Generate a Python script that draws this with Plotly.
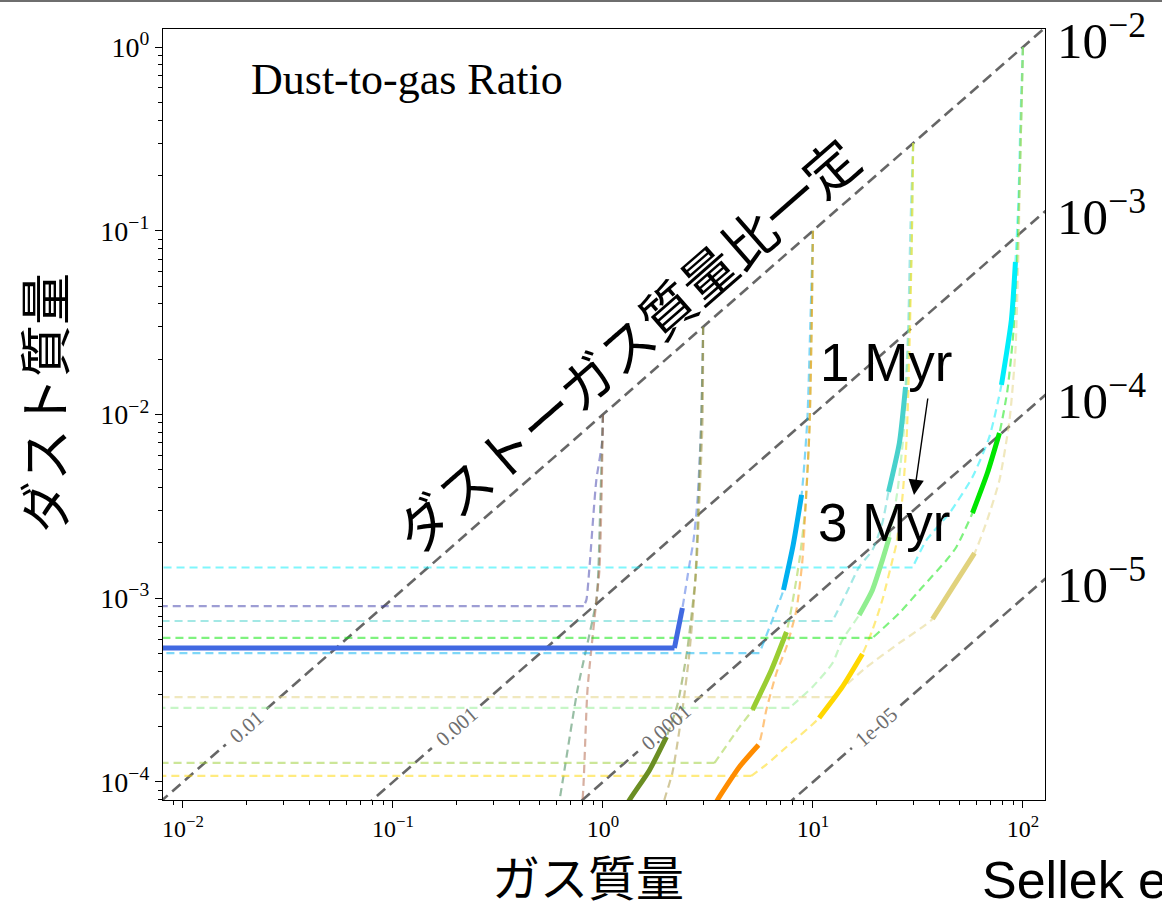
import math
import plotly.graph_objects as go

# ---------------------------------------------------------------------------
# Axis limits (log10 of gas mass / dust mass)
# ---------------------------------------------------------------------------
X_LOG_RANGE = [-2.095, 2.105]
Y_LOG_RANGE = [-4.098, 0.098]

x_tick_vals = [1e-2, 1e-1, 1.0, 1e1, 1e2]
x_tick_text = ["10<sup>−2</sup>", "10<sup>−1</sup>", "10<sup>0</sup>", "10<sup>1</sup>", "10<sup>2</sup>"]
y_tick_vals = [1e-4, 1e-3, 1e-2, 1e-1, 1.0]
y_tick_text = ["10<sup>−4</sup>", "10<sup>−3</sup>", "10<sup>−2</sup>", "10<sup>−1</sup>", "10<sup>0</sup>"]

# constant dust-to-gas ratio lines and their inline labels
ratio_levels = [1e-2, 1e-3, 1e-4, 1e-5]
ratio_label_text = ["0.01", "0.001", "0.0001", "1e-05"]
ratio_label_gas = [0.02, 0.2, 2.0, 20.0]
ratio_right_text = ["10<sup>−2</sup>", "10<sup>−3</sup>", "10<sup>−4</sup>", "10<sup>−5</sup>"]

# ---------------------------------------------------------------------------
# Disc evolution tracks: gas mass vs dust mass.
# myr_* gives the index span (first, last) of the 1-3 Myr part of each track.
# ---------------------------------------------------------------------------
# initial gas mass 1
gas_1a = [1.0, 0.99, 0.93, 0.862, 0.834, 0.81, 0.005]
dust_1a = [0.01, 0.007, 0.0044, 0.00146, 0.00098, 0.000907, 0.000907]
myr_1a = None

gas_1b = [1.0, 0.973, 0.951, 0.931, 0.756, 0.621, 0.594]
dust_1b = [0.01, 0.00343, 0.00142, 9.78e-4, 3.17e-4, 7.98e-5, 6.37e-5]
myr_1b = None

gas_1c = [1.0, 0.984, 0.962, 0.931, 0.844, 0.799, 0.772]
dust_1c = [0.01, 0.00343, 0.00142, 9.78e-4, 3.17e-4, 7.98e-5, 6.6e-5]
myr_1c = None

# initial gas mass 3
gas_3a = [3.0, 2.94, 2.82, 2.70, 2.58, 2.39, 2.19, 0.005]
dust_3a = [0.03, 0.00933, 0.00343, 0.00207, 0.00152, 8.85e-4, 5.36e-4, 5.36e-4]
myr_3a = (5, 7)

gas_3b = [3.0, 2.94, 2.85, 2.75, 2.52, 2.26, 2.006, 1.665, 1.337, 1.265]
dust_3b = [0.03, 0.00933, 0.00343, 0.00126, 5.23e-4, 2.62e-4, 1.76e-4, 1.16e-4, 7.98e-5, 7.05e-5]
myr_3b = (6, 9)

gas_3c = [3.0, 2.98, 2.88, 2.79, 2.58, 2.39, 2.14, 1.96, 1.90]
dust_3c = [0.03, 0.00933, 0.00343, 0.00152, 5.03e-4, 2.47e-4, 1.12e-4, 7.98e-5, 6.87e-5]
myr_3c = None

# initial gas mass 10
gas_10a = [10.0, 9.7, 9.4, 8.83, 8.05, 7.24, 6.41, 5.56, 0.005]
dust_10a = [0.1, 0.0288, 0.00933, 0.00365, 0.00195, 0.00111, 7.62e-4, 5.03e-4, 5.03e-4]
myr_10a = (3, 5)

gas_10b = [10.0, 9.85, 9.62, 9.18, 8.62, 7.48, 6.34, 5.15, 4.47, 3.40, 0.005]
dust_10b = [0.1, 0.0288, 0.00824, 0.00302, 0.00161, 6.55e-4, 4.07e-4, 2.47e-4, 1.99e-4, 1.27e-4, 1.27e-4]
myr_10b = (5, 7)

gas_10c = [10.0, 9.85, 9.62, 9.2, 8.91, 8.34, 7.48, 6.70, 6.0, 5.50, 4.47, 3.51, 3.36]
dust_10c = [0.1, 0.0288, 0.00824, 0.00302, 0.00161, 8.63e-4, 5.43e-4, 3.92e-4, 2.47e-4, 1.59e-4, 1.21e-4, 7.98e-5, 7.22e-5]
myr_10c = (9, 12)

# initial gas mass 30
gas_30a = [30.0, 29.1, 28.4, 27.6, 25.8, 22.9, 21.4, 19.2, 16.6, 14.45, 12.4, 0.005]
dust_30a = [0.3, 0.101, 0.0288, 0.0141, 0.0070, 0.00379, 0.00257, 0.00183, 0.00148, 0.00107, 7.52e-4, 7.52e-4]
myr_30a = (3, 5)

gas_30b = [30.0, 29.5, 28.4, 27.1, 25.3, 23.1, 21.4, 19.2, 16.6, 13.8, 12.4, 9.95, 7.73, 0.005]
dust_30b = [0.3, 0.0786, 0.0224, 0.00824, 0.00388, 0.00215, 0.00161, 0.00111, 8.11e-4, 5.93e-4, 4.44e-4, 3.29e-4, 2.53e-4, 2.53e-4]
myr_30b = (5, 8)

gas_30c = [30.0, 29.5, 28.8, 27.9, 26.6, 24.9, 23.9, 21.4, 19.2, 17.2, 13.8, 10.7, 7.48, 5.98, 5.09, 0.005]
dust_30c = [0.3, 0.0786, 0.0224, 0.00726, 0.00343, 0.00195, 0.00161, 9.78e-4, 6.72e-4, 4.97e-4, 3.29e-4, 2.23e-4, 1.55e-4, 1.24e-4, 1.08e-4, 1.08e-4]
myr_30c = (9, 11)

# initial gas mass 100
gas_100a = [100.0, 97.3, 95.2, 92.1, 88.1, 79.0, 69.2, 57.5, 44.7, 34.7, 29.8, 0.005]
dust_100a = [1.0, 0.401, 0.147, 0.0676, 0.0327, 0.0145, 0.00755, 0.00457, 0.00291, 0.00207, 0.00147, 0.00147]
myr_100a = (3, 5)

gas_100b = [100.0, 97.3, 94.2, 90.2, 84.4, 77.3, 67.7, 57.5, 48.2, 43.2, 33.2, 25.8, 19.2, 0.005]
dust_100b = [1.0, 0.275, 0.0786, 0.0288, 0.0136, 0.00793, 0.00480, 0.00291, 0.00190, 0.00161, 0.00115, 8.31e-4, 6.08e-4, 6.08e-4]
myr_100b = (5, 7)

gas_100c = [100.0, 97.3, 95.2, 92.1, 86.3, 77.3, 67.6, 58.8, 46.1, 37.1, 25.8, 18.0, 12.4, 0.005]
dust_100c = [1.0, 0.275, 0.0786, 0.0224, 0.00933, 0.00440, 0.00267, 0.00176, 0.00114, 7.71e-4, 5.71e-4, 4.22e-4, 2.90e-4, 2.90e-4]
myr_100c = (7, 9)

tracks = [
    (gas_1a, dust_1a, myr_1a, (60, 60, 170)),
    (gas_1b, dust_1b, myr_1b, (50, 125, 75)),
    (gas_1c, dust_1c, myr_1c, (175, 95, 65)),
    (gas_3a, dust_3a, myr_3a, (65, 105, 225)),
    (gas_3b, dust_3b, myr_3b, (107, 142, 35)),
    (gas_3c, dust_3c, myr_3c, (165, 145, 55)),
    (gas_10a, dust_10a, myr_10a, (0, 176, 240)),
    (gas_10b, dust_10b, myr_10b, (154, 205, 50)),
    (gas_10c, dust_10c, myr_10c, (255, 140, 0)),
    (gas_30a, dust_30a, myr_30a, (72, 209, 204)),
    (gas_30b, dust_30b, myr_30b, (144, 238, 144)),
    (gas_30c, dust_30c, myr_30c, (255, 215, 0)),
    (gas_100a, dust_100a, myr_100a, (0, 238, 250)),
    (gas_100b, dust_100b, myr_100b, (0, 230, 0)),
    (gas_100c, dust_100c, myr_100c, (225, 210, 125)),
]

# ---------------------------------------------------------------------------
# Page layout (pixels)
# ---------------------------------------------------------------------------
W, H = 1162, 907
ML, MR, MT, MB = 163, 117, 29, 107
PLOT_W = W - ML - MR
PLOT_H = H - MT - MB
PX_PER_DEC_X = PLOT_W / (X_LOG_RANGE[1] - X_LOG_RANGE[0])
PX_PER_DEC_Y = PLOT_H / (Y_LOG_RANGE[1] - Y_LOG_RANGE[0])
SLOPE_DEG = math.degrees(math.atan(PX_PER_DEC_Y / PX_PER_DEC_X))


def paper_x(px):
    return (px - ML) / PLOT_W


def paper_y(py):
    return 1 - (py - MT) / PLOT_H


def rgba(c, a):
    return "rgba(%d,%d,%d,%.2f)" % (c[0], c[1], c[2], a)


def add_curve(fig, g, d, line):
    """Smooth curve for the evolving part, straight run for the dispersal tail."""
    has_tail = g[-1] < 0.01
    body_g, body_d = (g[:-1], d[:-1]) if has_tail else (g, d)
    fig.add_trace(go.Scatter(
        x=body_g, y=body_d, mode="lines", line=dict(line, shape="spline", smoothing=0.6),
        hoverinfo="skip", showlegend=False))
    if has_tail:
        fig.add_trace(go.Scatter(
            x=g[-2:], y=d[-2:], mode="lines", line=line,
            hoverinfo="skip", showlegend=False))


fig = go.Figure()

# constant-ratio guide lines, broken where the inline label sits
LABEL_FS = 21
for r, lab, g_lab in zip(ratio_levels, ratio_label_text, ratio_label_gas):
    half_gap_px = (0.5 * LABEL_FS * len(lab) * 0.5 + 6) * math.cos(math.radians(SLOPE_DEG))
    f = 10 ** (half_gap_px / PX_PER_DEC_X)
    g_lo, g_hi = 10 ** (X_LOG_RANGE[0] - 0.2), 10 ** (X_LOG_RANGE[1] + 0.2)
    for seg in ([g_lo, g_lab / f], [g_lab * f, g_hi]):
        fig.add_trace(go.Scatter(
            x=seg, y=[r * g for g in seg], mode="lines",
            line=dict(color="rgba(85,85,85,0.9)", width=2.6, dash="11px,6px"),
            hoverinfo="skip", showlegend=False))

# full tracks, dashed and translucent
for g, d, span, col in tracks:
    add_curve(fig, g, d, dict(color=rgba(col, 0.5), width=2.2, dash="8px,5px"))

# 1-3 Myr parts, solid and opaque
for g, d, span, col in tracks:
    if span is None:
        continue
    i0, i1 = span
    seg_g, seg_d = g[i0:i1 + 1], d[i0:i1 + 1]
    if seg_g[-1] < 0.01:
        add_curve(fig, seg_g, seg_d, dict(color=rgba(col, 1.0), width=5))
    else:
        fig.add_trace(go.Scatter(
            x=seg_g, y=seg_d, mode="lines",
            line=dict(color=rgba(col, 1.0), width=5, shape="spline", smoothing=0.6),
            hoverinfo="skip", showlegend=False))

annotations = []

# inline ratio labels
for r, lab, g_lab in zip(ratio_levels, ratio_label_text, ratio_label_gas):
    annotations.append(dict(
        x=math.log10(g_lab), y=math.log10(r * g_lab), xref="x", yref="y",
        text=lab, showarrow=False, textangle=-SLOPE_DEG,
        font=dict(family="Liberation Serif", size=LABEL_FS, color="rgb(110,110,110)"),
        xanchor="center", yanchor="middle"))

# ratio values where the guide lines meet the right-hand edge
RIGHT_FS = 51
for r, lab in zip(ratio_levels, ratio_right_text):
    hit_px = MT + (Y_LOG_RANGE[1] - (math.log10(r) + X_LOG_RANGE[1])) * PX_PER_DEC_Y
    centre_px = max(hit_px + 2, 0.72 * RIGHT_FS)  # keep the top label on the page
    annotations.append(dict(
        x=paper_x(1055), y=paper_y(centre_px), xref="paper", yref="paper",
        text=lab, showarrow=False, xanchor="left", yanchor="middle",
        font=dict(family="Liberation Serif", size=RIGHT_FS, color="black")))

annotations += [
    dict(x=paper_x(249), y=paper_y(79), xref="paper", yref="paper",
         text="Dust-to-gas Ratio", showarrow=False, xanchor="left", yanchor="middle",
         font=dict(family="Liberation Serif", size=44, color="black")),
    dict(x=paper_x(625), y=paper_y(343), xref="paper", yref="paper",
         text="ダストーガス質量比一定", showarrow=False, textangle=-SLOPE_DEG,
         xanchor="center", yanchor="middle",
         font=dict(family="Noto Sans CJK JP", size=54, color="black")),
    dict(x=paper_x(886), y=paper_y(362), xref="paper", yref="paper",
         text="1 Myr", showarrow=False, xanchor="center", yanchor="middle",
         font=dict(family="Liberation Sans", size=53, color="black")),
    dict(x=paper_x(884), y=paper_y(522), xref="paper", yref="paper",
         text="3 Myr", showarrow=False, xanchor="center", yanchor="middle",
         font=dict(family="Liberation Sans", size=53, color="black")),
    dict(x=paper_x(914), y=paper_y(495), xref="paper", yref="paper",
         ax=14, ay=-98, text="", showarrow=True, arrowhead=2, arrowsize=2.2,
         arrowwidth=1.4, arrowcolor="black"),
    dict(x=paper_x(588), y=paper_y(875), xref="paper", yref="paper",
         text="ガス質量", showarrow=False, xanchor="center", yanchor="middle",
         font=dict(family="Noto Sans CJK JP", size=48, color="black")),
    dict(x=paper_x(42), y=paper_y(403), xref="paper", yref="paper",
         text="ダスト質量", showarrow=False, textangle=-90,
         xanchor="center", yanchor="middle",
         font=dict(family="Noto Sans CJK JP", size=52, color="black")),
    dict(x=paper_x(980), y=paper_y(880), xref="paper", yref="paper",
         text="Sellek et al. (2020)", showarrow=False, xanchor="left", yanchor="middle",
         font=dict(family="Liberation Sans", size=52, color="black")),
]

x_minor = [k * 10 ** e for e in range(-3, 3) for k in range(2, 10)]
y_minor = [k * 10 ** e for e in range(-5, 1) for k in range(2, 10)]

axis_common = dict(
    type="log", showgrid=False, zeroline=False,
    showline=True, linecolor="black", linewidth=1.4, mirror=True,
    ticks="outside", ticklen=7, tickwidth=1.2, tickcolor="black",
)

fig.update_layout(
    width=W, height=H,
    margin=dict(l=ML, r=MR, t=MT, b=MB, pad=0),
    paper_bgcolor="white", plot_bgcolor="white",
    showlegend=False,
    xaxis=dict(axis_common, range=X_LOG_RANGE, tickmode="array",
               tickvals=x_tick_vals, ticktext=x_tick_text,
               tickfont=dict(family="Liberation Serif", size=24, color="black"),
               minor=dict(tickmode="array", tickvals=x_minor, ticks="outside",
                          ticklen=4, tickwidth=1, tickcolor="black", showgrid=False)),
    yaxis=dict(axis_common, range=Y_LOG_RANGE, tickmode="array",
               tickvals=y_tick_vals, ticktext=y_tick_text,
               tickfont=dict(family="Liberation Serif", size=28, color="black"),
               minor=dict(tickmode="array", tickvals=y_minor, ticks="outside",
                          ticklen=4, tickwidth=1, tickcolor="black", showgrid=False)),
    annotations=annotations,
    shapes=[dict(type="line", xref="paper", yref="paper",
                 x0=paper_x(0), x1=paper_x(W), y0=paper_y(1), y1=paper_y(1),
                 line=dict(color="rgb(110,110,110)", width=2))],
)

fig.write_html("out.html")
